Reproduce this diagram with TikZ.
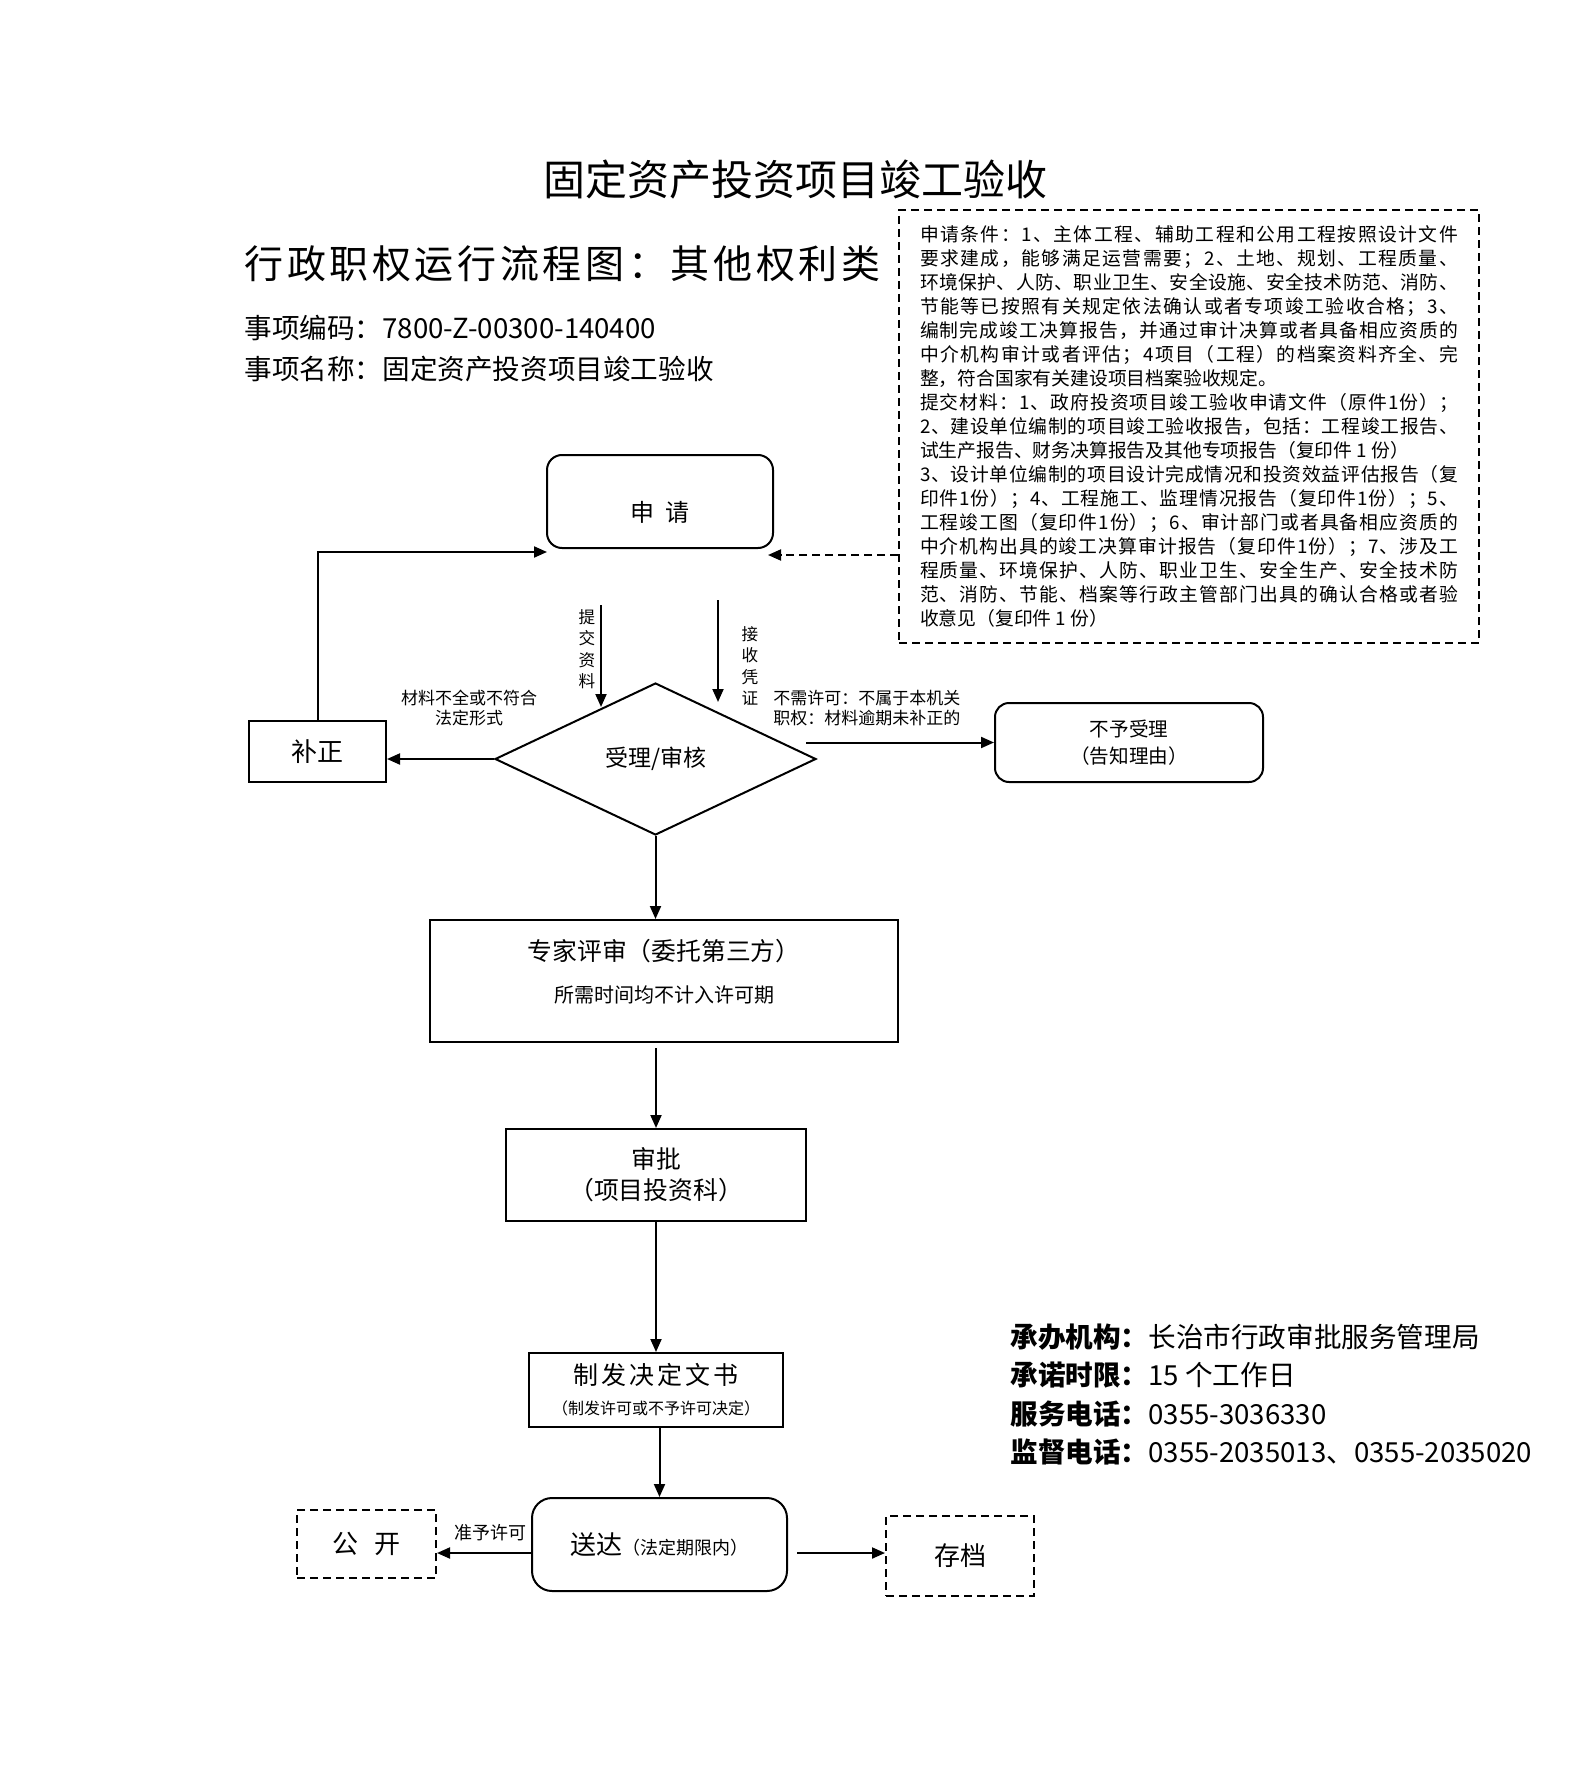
\documentclass[tikz,border=0pt]{standalone}
\usepackage{fontspec}
\setmainfont{Noto Sans CJK SC}
\usetikzlibrary{arrows.meta,shapes.geometric,calc}
\def\sprA#1{#1\sprB}
\def\sprB#1{\ifx\relax#1\else\hskip0pt plus1fil minus0.06em\relax#1\expandafter\sprB\fi}
\newcommand\spreadto[2]{\makebox[#1][s]{\sprA#2\relax}}
\tikzset{
  base/.style={draw, line width=1pt, inner sep=0pt},
  sqbox/.style={base, rectangle},
  rndbox/.style={base, rectangle, rounded corners=7.5pt},
  dbox/.style={base, rectangle, dash pattern=on 4pt off 2.5pt},
  arr/.style={line width=1pt, -{Triangle[length=6.5pt,width=5.5pt]}},
  txt/.style={inner sep=0pt},
}
\begin{document}
\begin{tikzpicture}[x=0.5pt,y=-0.5pt]
\useasboundingbox (0,0) rectangle (1587,1765);
% headings
\node[txt, font=\fontsize{21}{25}\selectfont] (t1) at (795,180) {固定资产投资项目竣工验收};
\node[txt, anchor=west, font=\fontsize{19.5}{24}\selectfont] (t2) at (244,264) {\spreadto{318pt}{行政职权运行流程图：其他权利类}};
\node[txt, anchor=west, font=\fontsize{13.8}{16}\selectfont] (code) at (244,328) {事项编码：7800-Z-00300-140400};
\node[txt, anchor=west, font=\fontsize{13.8}{16}\selectfont] (name) at (244,369) {事项名称：固定资产投资项目竣工验收};
% info box
\node[dbox, minimum width=290pt, minimum height=216.5pt, align=left, font=\fontsize{9.4}{12}\selectfont] (info) at (1189,426.5) {%
\spreadto{269pt}{申请条件：1、主体工程、辅助工程和公用工程按照设计文件}\\
\spreadto{269pt}{要求建成，能够满足运营需要；2、土地、规划、工程质量、}\\
\spreadto{269pt}{环境保护、人防、职业卫生、安全设施、安全技术防范、消防、}\\
\spreadto{269pt}{节能等已按照有关规定依法确认或者专项竣工验收合格；3、}\\
\spreadto{269pt}{编制完成竣工决算报告，并通过审计决算或者具备相应资质的}\\
\spreadto{269pt}{中介机构审计或者评估；4项目（工程）的档案资料齐全、完}\\
整，符合国家有关建设项目档案验收规定。\\
\spreadto{269pt}{提交材料：1、政府投资项目竣工验收申请文件（原件1份）；}\\
\spreadto{269pt}{2、建设单位编制的项目竣工验收报告，包括：工程竣工报告、}\\
试生产报告、财务决算报告及其他专项报告（复印件 1 份）\\
\spreadto{269pt}{3、设计单位编制的项目设计完成情况和投资效益评估报告（复}\\
\spreadto{269pt}{印件1份）；4、工程施工、监理情况报告（复印件1份）；5、}\\
\spreadto{269pt}{工程竣工图（复印件1份）；6、审计部门或者具备相应资质的}\\
\spreadto{269pt}{中介机构出具的竣工决算审计报告（复印件1份）；7、涉及工}\\
\spreadto{269pt}{程质量、环境保护、人防、职业卫生、安全生产、安全技术防}\\
\spreadto{269pt}{范、消防、节能、档案等行政主管部门出具的确认合格或者验}\\
收意见（复印件 1 份）};
% flow nodes
\node[rndbox, minimum width=113pt, minimum height=46.5pt, text height=21pt, font=\fontsize{12}{14}\selectfont] (sq) at (660,501.5) {申\hspace{0.45em}请};
\node[base, diamond, minimum width=160.5pt, minimum height=76pt, font=\fontsize{11.5}{14}\selectfont] (dia) at (655.5,759) {受理/审核};
\node[sqbox, minimum width=68.5pt, minimum height=30.5pt, font=\fontsize{13}{15}\selectfont] (bz) at (317.5,751.5) {补正};
\node[rndbox, rounded corners=7pt, minimum width=134pt, minimum height=39.5pt, align=center, font=\fontsize{9.8}{13.5}\selectfont] (by) at (1129,742.5) {不予受理\\（告知理由）};
\node[sqbox, minimum width=234pt, minimum height=61pt, align=center, text depth=10pt, font=\fontsize{12.4}{21}\selectfont] (zj) at (664,981) {专家评审（委托第三方）\\{\fontsize{10}{21}\selectfont 所需时间均不计入许可期}};
\node[sqbox, minimum width=150pt, minimum height=46pt, align=center, font=\fontsize{12.4}{15.5}\selectfont] (sp) at (656,1175) {审批\\（项目投资科）};
\node[sqbox, minimum width=127pt, minimum height=37pt, align=center, font=\fontsize{12.5}{15}\selectfont] (zf) at (656,1390) {\spreadto{83pt}{制发决定文书}\\{\fontsize{8}{15}\selectfont （制发许可或不予许可决定）}};
\node[rndbox, rounded corners=10pt, minimum width=127.5pt, minimum height=46.5pt, font=\fontsize{13}{15}\selectfont] (sd) at (659.5,1544.5) {送达{\fontsize{9}{15}\selectfont （法定期限内）}};
\node[dbox, minimum width=69.5pt, minimum height=34pt, font=\fontsize{13}{15}\selectfont] (gk) at (366.5,1544) {公\hspace{0.6em}开};
\node[dbox, minimum width=74pt, minimum height=40pt, font=\fontsize{13}{15}\selectfont] (cd) at (960,1556) {存档};
% labels
\node[txt, align=center, font=\fontsize{8.3}{10.7}\selectfont] (l1) at (587,649) {提\\交\\资\\料};
\node[txt, align=center, font=\fontsize{8.3}{10.7}\selectfont] (l2) at (750,666) {接\\收\\凭\\证};
\node[txt, align=center, font=\fontsize{8.5}{9.7}\selectfont] (l3) at (469,708) {材料不全或不符合\\法定形式};
\node[txt, anchor=west, align=left, font=\fontsize{8.5}{9.7}\selectfont] (l4) at (773,708) {不需许可：不属于本机关\\职权：材料逾期未补正的};
\node[txt, font=\fontsize{9}{10}\selectfont] (l5) at (490,1533) {准予许可};
% bottom right info
\node[txt, anchor=north west, align=left, font=\fontsize{13.8}{19.3}\selectfont] (org) at (1010,1323) {\textbf{承办机构：}长治市行政审批服务管理局\\\textbf{承诺时限：}15 个工作日\\\textbf{服务电话：}0355-3036330\\\textbf{监督电话：}0355-2035013、0355-2035020};
% coordinates
\coordinate (inL) at (547,552);
\coordinate (inR) at (768,555);
\coordinate (tjs) at (601,605);
\coordinate (tje) at (601,707);
\coordinate (jss) at (718,600);
\coordinate (jse) at (718,702);
% connectors
\draw[arr] (bz.north) |- (inL);
\draw[arr, dash pattern=on 4pt off 2.5pt] (info.west |- inR) -- (inR);
\draw[arr] (tjs) -- (tje);
\draw[arr] (jss) -- (jse);
\draw[arr] (dia.west) -- (dia.west -| bz.east);
\draw[arr] ($(by.west -| dia.east)+(-11,0)$) -- (by.west);
\draw[arr] (dia.south) -- (dia.south |- zj.north);
\draw[arr] ($(sp.north |- zj.south)+(0,5)$) -- (sp.north);
\draw[arr] (zf.north |- sp.south) -- (zf.north);
\draw[arr] (sd.north |- zf.south) -- (sd.north);
\draw[arr] ($(sd.west)+(0,8.5)$) coordinate (a1) -- (a1 -| gk.east);
\draw[arr] ($(sd.east)+(9,8.5)$) coordinate (a2) -- (a2 -| cd.west);
\end{tikzpicture}
\end{document}
